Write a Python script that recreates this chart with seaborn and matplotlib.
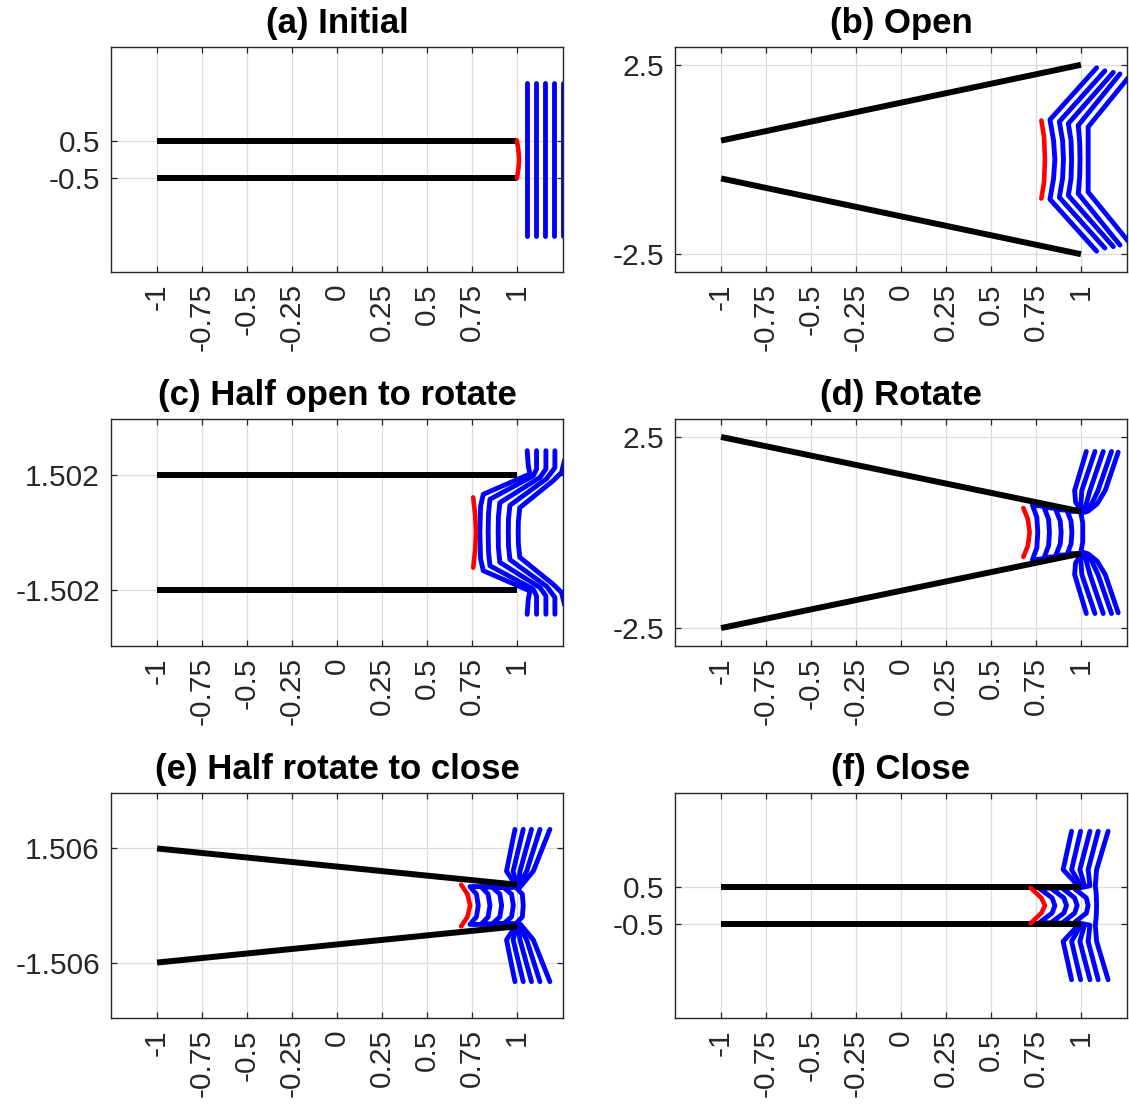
import matplotlib
matplotlib.use("Agg")
import matplotlib.pyplot as plt
import numpy as np
import pandas as pd
import seaborn as sns

# ---------------------------------------------------------------- data
TITLES = ["(a) Initial", "(b) Open", "(c) Half open to rotate",
          "(d) Rotate", "(e) Half rotate to close", "(f) Close"]
X_TICKS = [-1, -0.75, -0.5, -0.25, 0, 0.25, 0.5, 0.75, 1]
X_TICK_LABELS = ["-1", "-0.75", "-0.5", "-0.25", "0", "0.25", "0.5", "0.75", "1"]
Y_TICKS = [[-0.5, 0.5], [-2.5, 2.5], [-1.502, 1.502],
           [-2.5, 2.5], [-1.506, 1.506], [-0.5, 0.5]]
Y_TICK_LABELS = [["-0.5", "0.5"], ["-2.5", "2.5"], ["-1.502", "1.502"],
                 ["-2.5", "2.5"], ["-1.506", "1.506"], ["-0.5", "0.5"]]

# walls: (x0, y0, x1, y1) for upper and lower plate
WALLS_A = [(-1, 0.5, 1, 0.5), (-1, -0.5, 1, -0.5)]
WALLS_B = [(-1, 0.5, 1, 2.5), (-1, -0.5, 1, -2.5)]
WALLS_C = [(-1, 1.502, 1, 1.502), (-1, -1.502, 1, -1.502)]
WALLS_D = [(-1, 2.5, 1, 0.55), (-1, -2.5, 1, -0.55)]
WALLS_E = [(-1, 1.506, 1, 0.55), (-1, -1.506, 1, -0.55)]
WALLS_F = [(-1, 0.5, 1, 0.5), (-1, -0.5, 1, -0.5)]

# interface (red)
RED_A_X = [1.0, 1.008, 1.012, 1.008, 1.0]
RED_A_Y = [0.5, 0.25, 0.0, -0.25, -0.5]
RED_B_X = [0.78, 0.795, 0.80, 0.795, 0.78]
RED_B_Y = [1.03, 0.6, 0.0, -0.6, -1.03]
RED_C_X = [0.757, 0.768, 0.772, 0.768, 0.757]
RED_C_Y = [0.92, 0.45, 0.0, -0.45, -0.92]
RED_D_X = [0.68, 0.705, 0.715, 0.705, 0.68]
RED_D_Y = [0.64, 0.35, 0.0, -0.35, -0.64]
RED_E_X = [0.69, 0.725, 0.74, 0.725, 0.69]
RED_E_Y = [0.55, 0.3, 0.0, -0.3, -0.55]
RED_F_X = [0.72, 0.78, 0.80, 0.78, 0.72]
RED_F_Y = [0.47, 0.2, 0.0, -0.2, -0.47]

# material lines (blue), one (x list, y list) per line
BLUE_A = [
    ([1.055, 1.055], [2.03, -2.03]),
    ([1.105, 1.105], [2.03, -2.03]),
    ([1.155, 1.155], [2.03, -2.03]),
    ([1.205, 1.205], [2.03, -2.03]),
    ([1.255, 1.255], [2.03, -2.03]),
]
BLUE_B = [
    ([1.087, 0.828, 0.848, 0.855, 0.848, 0.828, 1.087],
     [2.42, 1.05, 0.5, 0.0, -0.5, -1.05, -2.42]),
    ([1.133, 0.88, 0.898, 0.903, 0.898, 0.88, 1.133],
     [2.34, 1.0, 0.5, 0.0, -0.5, -1.0, -2.34]),
    ([1.18, 0.93, 0.945, 0.948, 0.945, 0.93, 1.18],
     [2.30, 0.95, 0.5, 0.0, -0.5, -0.95, -2.30]),
    ([1.217, 0.985, 0.993, 0.995, 0.993, 0.985, 1.217],
     [2.26, 0.9, 0.45, 0.0, -0.45, -0.9, -2.26]),
    ([1.27, 1.04, 1.04, 1.04, 1.27],
     [2.2, 0.86, 0.0, -0.86, -2.2]),
]
BLUE_C = [
    ([1.057, 1.063, 1.072, 0.813, 0.798, 0.794, 0.798, 0.813, 1.072, 1.063, 1.057],
     [2.14, 1.75, 1.53, 1.0, 0.69, 0.0, -0.69, -1.0, -1.53, -1.75, -2.14]),
    ([1.109, 1.109, 1.09, 0.85, 0.842, 0.84, 0.842, 0.85, 1.09, 1.109, 1.109],
     [2.14, 1.66, 1.48, 0.87, 0.5, 0.0, -0.5, -0.87, -1.48, -1.66, -2.14]),
    ([1.161, 1.161, 1.128, 0.905, 0.897, 0.896, 0.897, 0.905, 1.128, 1.161, 1.161],
     [2.14, 1.66, 1.44, 0.78, 0.4, 0.0, -0.4, -0.78, -1.44, -1.66, -2.14]),
    ([1.211, 1.211, 1.165, 0.961, 0.953, 0.952, 0.953, 0.961, 1.165, 1.211, 1.211],
     [2.14, 1.70, 1.41, 0.71, 0.35, 0.0, -0.35, -0.71, -1.41, -1.70, -2.14]),
    ([1.265, 1.248, 1.20, 1.016, 1.008, 1.007, 1.008, 1.016, 1.20, 1.248, 1.265],
     [1.9, 1.57, 1.35, 0.65, 0.3, 0.0, -0.3, -0.65, -1.35, -1.57, -1.9]),
]
BLUE_D = [
    ([1.03, 0.965, 0.97, 1.0, 0.73, 0.755, 0.76, 0.755, 0.73, 1.0, 0.97, 0.965, 1.03],
     [2.12, 1.1, 0.8, 0.56, 0.72, 0.4, 0.0, -0.4, -0.72, -0.56, -0.8, -1.1, -2.12]),
    ([1.078, 1.005, 1.0, 1.01, 0.795, 0.82, 0.825, 0.82, 0.795, 1.01, 1.0, 1.005, 1.078],
     [2.12, 1.1, 0.75, 0.56, 0.66, 0.35, 0.0, -0.35, -0.66, -0.56, -0.75, -1.1, -2.12]),
    ([1.124, 1.05, 1.03, 1.02, 0.86, 0.885, 0.89, 0.885, 0.86, 1.02, 1.03, 1.05, 1.124],
     [2.12, 1.1, 0.75, 0.56, 0.6, 0.3, 0.0, -0.3, -0.6, -0.56, -0.75, -1.1, -2.12]),
    ([1.17, 1.095, 1.06, 1.03, 0.925, 0.945, 0.95, 0.945, 0.925, 1.03, 1.06, 1.095, 1.17],
     [2.12, 1.1, 0.75, 0.56, 0.55, 0.3, 0.0, -0.3, -0.55, -0.56, -0.75, -1.1, -2.12]),
    ([1.207, 1.135, 1.09, 1.04, 1.0, 1.01, 1.01, 1.01, 1.0, 1.04, 1.09, 1.135, 1.207],
     [2.1, 1.1, 0.75, 0.56, 0.5, 0.25, 0.0, -0.25, -0.5, -0.56, -0.75, -1.1, -2.1]),
]
BLUE_E = [
    ([0.989, 0.942, 0.998, 0.739, 0.775, 0.785, 0.775, 0.739, 0.998, 0.942, 0.989],
     [2.01, 0.907, 0.5, 0.5, 0.3, 0.0, -0.3, -0.5, -0.5, -0.907, -2.01]),
    ([1.035, 0.979, 1.0, 0.804, 0.84, 0.85, 0.84, 0.804, 1.0, 0.979, 1.035],
     [2.01, 0.907, 0.5, 0.48, 0.3, 0.0, -0.3, -0.48, -0.5, -0.907, -2.01]),
    ([1.081, 1.017, 1.005, 0.868, 0.905, 0.915, 0.905, 0.868, 1.005, 1.017, 1.081],
     [2.01, 0.907, 0.5, 0.46, 0.3, 0.0, -0.3, -0.46, -0.5, -0.907, -2.01]),
    ([1.128, 1.054, 1.01, 0.933, 0.97, 0.98, 0.97, 0.933, 1.01, 1.054, 1.128],
     [2.01, 0.907, 0.5, 0.45, 0.3, 0.0, -0.3, -0.45, -0.5, -0.907, -2.01]),
    ([1.183, 1.091, 1.02, 1.0, 1.03, 1.035, 1.03, 1.0, 1.02, 1.091, 1.183],
     [2.01, 0.907, 0.5, 0.45, 0.3, 0.0, -0.3, -0.45, -0.5, -0.907, -2.01]),
]
BLUE_F = [
    ([0.948, 0.901, 0.985, 0.772, 0.84, 0.855, 0.84, 0.772, 0.985, 0.901, 0.948],
     [1.96, 0.947, 0.52, 0.44, 0.2, 0.0, -0.2, -0.44, -0.52, -0.947, -1.96]),
    ([0.998, 0.948, 1.0, 0.837, 0.905, 0.92, 0.905, 0.837, 1.0, 0.948, 0.998],
     [1.96, 0.947, 0.52, 0.44, 0.2, 0.0, -0.2, -0.44, -0.52, -0.947, -1.96]),
    ([1.05, 0.994, 1.02, 0.901, 0.965, 0.979, 0.965, 0.901, 1.02, 0.994, 1.05],
     [1.96, 0.947, 0.52, 0.44, 0.2, 0.0, -0.2, -0.44, -0.52, -0.947, -1.96]),
    ([1.096, 1.04, 1.05, 0.966, 1.03, 1.04, 1.03, 0.966, 1.05, 1.04, 1.096],
     [1.96, 0.947, 0.52, 0.44, 0.2, 0.0, -0.2, -0.44, -0.52, -0.947, -1.96]),
    ([1.151, 1.087, 1.08, 1.085, 1.087, 1.085, 1.08, 1.087, 1.151],
     [1.96, 0.947, 0.52, 0.3, 0.0, -0.3, -0.52, -0.947, -1.96]),
]

PANELS = [
    (WALLS_A, RED_A_X, RED_A_Y, BLUE_A),
    (WALLS_B, RED_B_X, RED_B_Y, BLUE_B),
    (WALLS_C, RED_C_X, RED_C_Y, BLUE_C),
    (WALLS_D, RED_D_X, RED_D_Y, BLUE_D),
    (WALLS_E, RED_E_X, RED_E_Y, BLUE_E),
    (WALLS_F, RED_F_X, RED_F_Y, BLUE_F),
]

# ---------------------------------------------------------------- style
sns.set_theme(style="white")
plt.rcParams["font.family"] = ["Liberation Sans", "DejaVu Sans"]
plt.rcParams["axes.unicode_minus"] = False

FIG_W, FIG_H = 1129, 1106
fig = plt.figure(figsize=(FIG_W / 100, FIG_H / 100), dpi=100)

COL_LEFT = [111, 675]
COL_W = 452
ROW_TOP = [47, 419, 793]
ROW_H = [225, 227, 225]

SPINE = "#262626"


def lines_frame(curves):
    rows = []
    for k, (xs, ys) in enumerate(curves):
        for i, (x, y) in enumerate(zip(xs, ys)):
            rows.append({"curve": k, "order": i, "x": x, "y": y})
    return pd.DataFrame(rows)


for idx, (walls, rx, ry, blue) in enumerate(PANELS):
    r, c = divmod(idx, 2)
    left = COL_LEFT[c] / FIG_W
    bottom = 1 - (ROW_TOP[r] + ROW_H[r]) / FIG_H
    ax = fig.add_axes([left, bottom, COL_W / FIG_W, ROW_H[r] / FIG_H])

    # grid and frame
    ax.set_xlim(-1.256, 1.256)
    ax.set_ylim(-2.97, 2.97)
    ax.set_xticks(X_TICKS)
    ax.set_xticklabels(X_TICK_LABELS, rotation=90)
    ax.set_yticks(Y_TICKS[idx])
    ax.set_yticklabels(Y_TICK_LABELS[idx])
    ax.grid(True, color="#dcdcdc", linewidth=0.9)
    ax.set_axisbelow(True)
    for s in ax.spines.values():
        s.set_visible(True)
        s.set_color(SPINE)
        s.set_linewidth(1.0)
    ax.tick_params(axis="both", direction="in", length=4, width=0.9,
                   color=SPINE, top=True, right=True, bottom=True, left=True,
                   labelsize=21.5, labelcolor="#262626", pad=8)

    # blue material lines
    dfb = lines_frame(blue)
    sns.lineplot(data=dfb, x="x", y="y", units="curve", estimator=None,
                 sort=False, color="#0000ff", linewidth=3.5, ax=ax,
                 legend=False)

    # walls
    dfw = lines_frame([([w[0], w[2]], [w[1], w[3]]) for w in walls])
    sns.lineplot(data=dfw, x="x", y="y", units="curve", estimator=None,
                 sort=False, color="black", linewidth=4.3, ax=ax,
                 legend=False, solid_capstyle="butt")

    # red interface
    dfr = pd.DataFrame({"x": rx, "y": ry})
    sns.lineplot(data=dfr, x="x", y="y", estimator=None, sort=False,
                 color="#ff0000", linewidth=3.3, ax=ax, legend=False)

    ax.set_xlabel("")
    ax.set_ylabel("")
    ax.set_title(TITLES[idx], fontsize=25, fontweight="bold", pad=10,
                 color="black")

fig.savefig("out.png", dpi=100)
